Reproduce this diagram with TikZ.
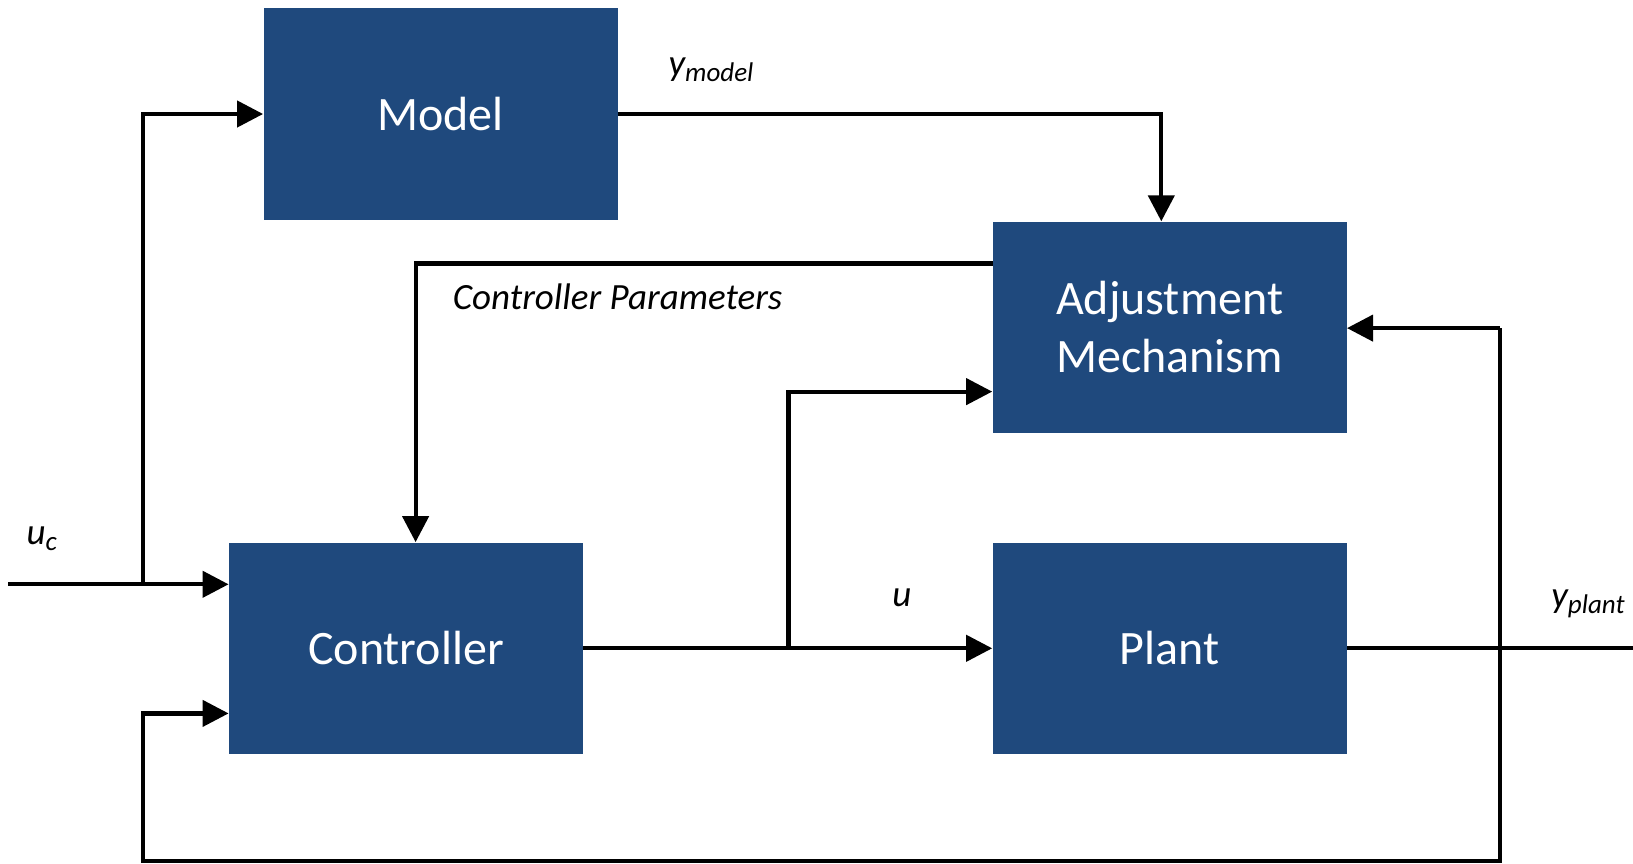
\documentclass[tikz,border=0pt]{standalone}
\usepackage{fontspec}
\setmainfont{Carlito}
\usetikzlibrary{arrows.meta}
\definecolor{boxblue}{RGB}{31,73,125}
\newcommand{\lowsub}[1]{\raisebox{-0.35ex}{\fontsize{13.5}{16}\selectfont #1}}
\begin{document}
\begin{tikzpicture}[x=0.5pt,y=-0.5pt,
  blk/.style={fill=boxblue,text=white,minimum width=177pt,minimum height=105.75pt,inner sep=0pt,align=center,font=\fontsize{24}{29}\selectfont},
  wire/.style={line width=2.1pt,line join=miter},
  arr/.style={wire,-{Triangle[length=13pt,width=13pt]}},
  lbl/.style={font=\fontsize{18.5}{22}\selectfont\itshape,inner sep=0pt}]
\useasboundingbox (0,0) rectangle (1633,863);
\node[blk] (model) at (440.5,114) {Model};
\node[blk] (adj) at (1169.6,327.5) {Adjustment\\Mechanism};
\node[blk] (ctrl) at (406,648.3) {Controller};
\node[blk] (plant) at (1169.6,648.3) {Plant};
% coordinates
\coordinate (in) at (8,584.3);
\coordinate (b1) at (142.7,584.3);
\coordinate (ym) at (1161.3,114);
\coordinate (cp1) at (992.5,263.5);
\coordinate (cp2) at (415.6,263.5);
\coordinate (b2) at (788.4,648.3);
\coordinate (b2t) at (788.4,391.6);
\coordinate (out) at (1633,648.3);
\coordinate (fbtop) at (1499.8,328.1);
\coordinate (fbbr) at (1499.8,861.3);
\coordinate (fbbl) at (142.7,861.3);
\coordinate (fbin) at (142.7,713.4);
% connectors
\draw[arr] (in) -- (in -| ctrl.west);
\draw[arr] (b1) |- (model.west);
\draw[arr] (model.east) -- (ym) -- (ym |- adj.north);
\draw[arr] (cp1) -- (cp2) -- (cp2 |- ctrl.north);
\draw[arr] (ctrl.east) -- (plant.west);
\draw[arr] (b2) -- (b2t) -- (b2t -| adj.west);
\draw[wire] (plant.east) -- (out);
\draw[arr] (fbtop) -- (fbtop -| adj.east);
\draw[arr] (fbtop) -- (fbbr) -- (fbbl) -- (fbin) -- (fbin -| ctrl.west);
% labels
\node[lbl] (luc) at (41.7,538.5) {u\lowsub{c}};
\node[lbl] (lym) at (711,70) {y\lowsub{model}};
\node[lbl] (lcp) at (617.6,296.8) {Controller Parameters};
\node[lbl] (lu) at (902,598) {u};
\node[lbl] (lyp) at (1588,604) {y\lowsub{plant}};
\end{tikzpicture}
\end{document}
